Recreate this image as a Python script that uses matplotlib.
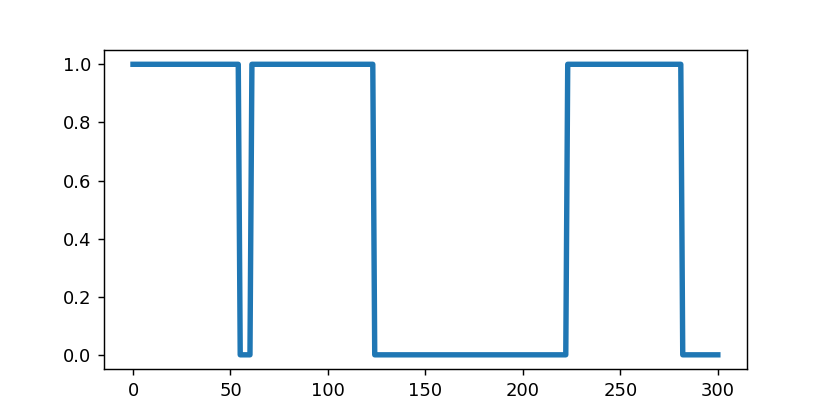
import numpy as np
from matplotlib import pyplot as plt

run_starts = [0, 55, 61, 124, 223, 282]
run_levels = [1.0, 0.0, 1.0, 0.0, 1.0, 0.0]
last_x = 300

run_lengths = np.diff(run_starts + [last_x + 1])
x = np.arange(last_x + 1)
y = np.repeat(run_levels, run_lengths)

fig, ax = plt.subplots(1)
fig.set_size_inches(6.4, 3.2)

ax.plot(x, y, color='#1f77b4', linewidth=3)

fig.savefig('out.png', dpi=129.7)
plt.close(fig)
